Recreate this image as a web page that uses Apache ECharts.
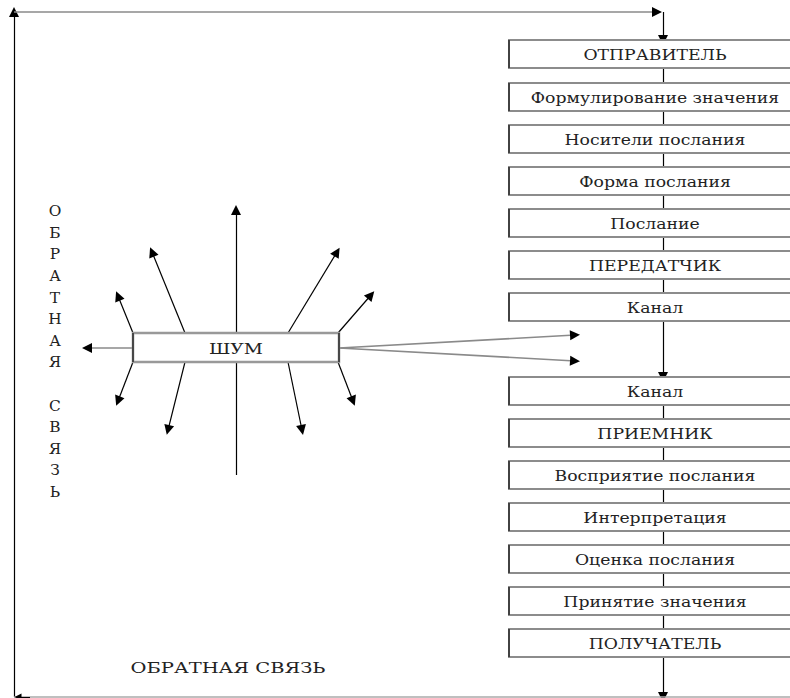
<!DOCTYPE html>
<html>
<head>
<meta charset="UTF-8"/>
<title>Обратная связь</title>
<script src="https://cdn.jsdelivr.net/npm/echarts@6/dist/echarts.min.js"></script>
<style>
  html, body { margin: 0; padding: 0; background: #fff; }
</style>
</head>
<body>
<div id="main" style="width: 790px;height:698px;"></div>
<script type="text/javascript">
    // этапы процесса коммуникации (правая колонка)
    var stages = ['ОТПРАВИТЕЛЬ', 'Формулирование значения', 'Носители послания', 'Форма послания',
        'Послание', 'ПЕРЕДАТЧИК', 'Канал', 'Канал', 'ПРИЕМНИК', 'Восприятие послания',
        'Интерпретация', 'Оценка послания', 'Принятие значения', 'ПОЛУЧАТЕЛЬ'];
    var stageTops = [40, 83, 125, 167, 209, 251, 293, 377, 419, 461, 503, 545, 587, 629];
    var boxH = 28;
    var colX = 663;

    // шум: стрелки от блока
    var noiseBox = [133, 333, 339, 362];
    var noiseRays = [
        [[133, 333], [118, 296]], [[185, 333], [152, 252]], [[236, 475], [236, 210]],
        [[288, 333], [337, 252]], [[338, 333], [371, 295]],
        [[133, 362], [118, 401]], [[185, 362], [168, 430]],
        [[288, 362], [302, 430]], [[338, 362], [353, 401]]
    ];
    var noiseOut = [[[133, 348], [87, 348]]];
    var noiseToChannel = [[[339, 348], [575, 335]], [[339, 348], [575, 361]]];
    var topFeedback = [[[14, 12], [657, 12]]];

    var sideLetters = 'ОБРАТНАЯ СВЯЗЬ'.split('');
    var bottomLabel = 'ОБРАТНАЯ СВЯЗЬ';

    var myChart = echarts.init(document.getElementById('main'), null, {renderer: 'svg'});

    // связи между блоками
    var plainLinks = [];
    var arrowLinks = [];
    for (var i = 0; i < stages.length - 1; i++) {
        var seg = {coords: [[colX, stageTops[i] + boxH], [colX, stageTops[i + 1]]]};
        if (stages[i] === 'Канал' && stages[i + 1] === 'Канал') arrowLinks.push(seg);
        else plainLinks.push(seg);
    }
    arrowLinks.push({coords: [[colX, 12], [colX, stageTops[0]]]});
    arrowLinks.push({coords: [[colX, stageTops[stageTops.length - 1] + boxH], [colX, 697]]});
    arrowLinks.push({coords: [[14, 697], [14, 12]]});

    function toLines(arr) {
        return arr.map(function (c) { return {coords: c}; });
    }
    // серые линии с чёрными наконечниками: короткий чёрный хвост у конца
    var grayArrows = noiseOut.concat(noiseToChannel).concat(topFeedback);
    var blackHeads = grayArrows.map(function (c) {
        var dx = c[1][0] - c[0][0], dy = c[1][1] - c[0][1];
        var len = Math.sqrt(dx * dx + dy * dy);
        return {coords: [[c[1][0] - dx / len * 3, c[1][1] - dy / len * 3], c[1]]};
    });

    var font = '"DejaVu Serif", "Liberation Serif", serif';

    option = {
        animation: false,
        grid: {left: 0, right: 0, top: 0, bottom: 0},
        xAxis: {type: 'value', min: 0, max: 790, show: false},
        yAxis: {type: 'value', min: 0, max: 698, inverse: true, show: false},
        series: [
            {
                type: 'lines', coordinateSystem: 'cartesian2d', z: 1,
                symbol: ['none', 'none'],
                lineStyle: {color: '#000', width: 1.2, opacity: 1},
                data: plainLinks
            },
            {
                type: 'lines', coordinateSystem: 'cartesian2d', z: 1,
                symbol: ['none', 'triangle'], symbolSize: [8, 10],
                lineStyle: {color: '#000', width: 1.2, opacity: 1},
                data: arrowLinks.concat(toLines(noiseRays))
            },
            {
                type: 'lines', coordinateSystem: 'cartesian2d', z: 1,
                symbol: ['none', 'none'],
                lineStyle: {color: '#aaa', width: 1.5, opacity: 1},
                data: [{coords: [[14, 697], [790, 697]]}]
            },
            {
                type: 'lines', coordinateSystem: 'cartesian2d', z: 1,
                symbol: ['triangle', 'none'], symbolSize: [7, 8],
                lineStyle: {color: '#000', width: 1, opacity: 1},
                data: [{coords: [[18, 697], [30, 697]]}]
            },
            {
                type: 'lines', coordinateSystem: 'cartesian2d', z: 1,
                symbol: ['none', 'none'],
                lineStyle: {color: '#8a8a8a', width: 1.6, opacity: 1},
                data: toLines(grayArrows)
            },
            {
                type: 'lines', coordinateSystem: 'cartesian2d', z: 2,
                symbol: ['none', 'triangle'], symbolSize: [8, 10],
                lineStyle: {color: '#000', width: 1.2, opacity: 1},
                data: blackHeads
            },
            {
                // блоки этапов
                type: 'custom', coordinateSystem: 'cartesian2d', z: 3,
                data: stageTops.map(function (t, k) { return [t, k]; }),
                renderItem: function (params, api) {
                    var t = api.value(0);
                    var p1 = api.coord([509, t]);
                    var p2 = api.coord([800, t + boxH]);
                    return {
                        type: 'group',
                        children: [
                            {type: 'rect', shape: {x: p1[0], y: p1[1], width: p2[0] - p1[0], height: p2[1] - p1[1]},
                                style: {fill: '#fff', stroke: '#8c8c8c', lineWidth: 2}},
                            {type: 'line', shape: {x1: p1[0], y1: p1[1], x2: p1[0], y2: p2[1]},
                                style: {stroke: '#111', lineWidth: 1.2}},
                            {type: 'text', x: api.coord([655, 0])[0], y: (p1[1] + p2[1]) / 2 + 1, scaleX: 1.15,
                                style: {text: stages[api.value(1)], font: '15px ' + font, fill: '#222',
                                    align: 'center', verticalAlign: 'middle'}}
                        ]
                    };
                }
            },
            {
                // блок ШУМ
                type: 'custom', coordinateSystem: 'cartesian2d', z: 3,
                data: [[noiseBox[0], noiseBox[1], noiseBox[2], noiseBox[3]]],
                renderItem: function (params, api) {
                    var p1 = api.coord([api.value(0), api.value(1)]);
                    var p2 = api.coord([api.value(2), api.value(3)]);
                    return {
                        type: 'group',
                        children: [
                            {type: 'rect', shape: {x: p1[0], y: p1[1], width: p2[0] - p1[0], height: p2[1] - p1[1]},
                                style: {fill: '#fff', stroke: '#999', lineWidth: 2.5}},
                            {type: 'line', shape: {x1: p1[0], y1: p1[1], x2: p1[0], y2: p2[1]},
                                style: {stroke: '#111', lineWidth: 1.2}},
                            {type: 'line', shape: {x1: p2[0], y1: p1[1], x2: p2[0], y2: p2[1]},
                                style: {stroke: '#111', lineWidth: 1.2}},
                            {type: 'text', x: (p1[0] + p2[0]) / 2, y: (p1[1] + p2[1]) / 2 + 1, scaleX: 1.25,
                                style: {text: 'ШУМ', font: '15px ' + font, fill: '#222',
                                    align: 'center', verticalAlign: 'middle'}}
                        ]
                    };
                }
            },
            {
                // вертикальная надпись
                type: 'custom', coordinateSystem: 'cartesian2d', z: 3,
                data: sideLetters.map(function (ch, k) { return [55, 211 + k * 21.6, k]; }),
                renderItem: function (params, api) {
                    var p = api.coord([api.value(0), api.value(1)]);
                    return {type: 'text', x: p[0], y: p[1], scaleX: 1.1,
                        style: {text: sideLetters[api.value(2)], font: '14px ' + font, fill: '#222',
                            align: 'center', verticalAlign: 'middle'}};
                }
            },
            {
                type: 'custom', coordinateSystem: 'cartesian2d', z: 3,
                data: [[228, 668]],
                renderItem: function (params, api) {
                    var p = api.coord([api.value(0), api.value(1)]);
                    return {type: 'text', x: p[0], y: p[1], scaleX: 1.3,
                        style: {text: bottomLabel, font: '15px ' + font, fill: '#222',
                            align: 'center', verticalAlign: 'middle'}};
                }
            }
        ]
    };
    myChart.setOption(option);
</script>
</body>
</html>
